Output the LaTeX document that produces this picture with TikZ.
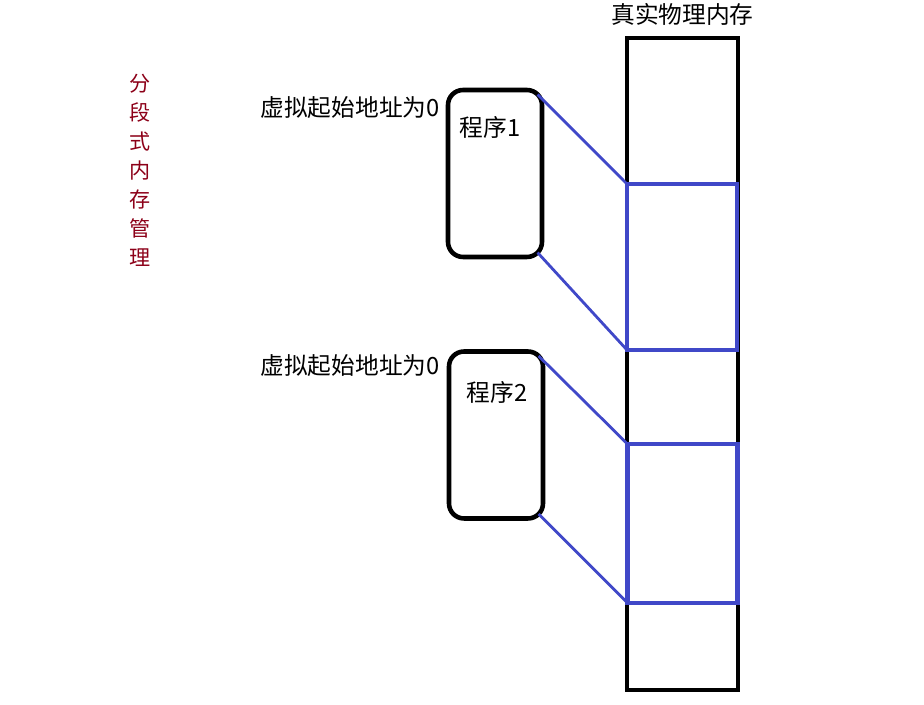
\documentclass[tikz,border=0pt]{standalone}
\usepackage{fontspec}
\setmainfont{Noto Sans CJK SC}
\usetikzlibrary{positioning,calc}
\definecolor{segblue}{RGB}{64,72,200}
\definecolor{titlered}{RGB}{140,0,24}
\tikzset{
  prog/.style={draw,line width=2.6pt,rounded corners=0.3cm,outer sep=0pt,minimum width=1.88cm,minimum height=3.34cm},
  seg/.style={draw=segblue,line width=2.5pt,outer sep=0pt,minimum width=2.2cm},
  maplink/.style={segblue,line width=1.6pt},
  txt/.style={font=\fontsize{13.5}{16}\selectfont,inner sep=0pt}
}
\begin{document}
\begin{tikzpicture}[x=0.02cm,y=-0.02cm]
  \useasboundingbox (0,0) rectangle (924,705);
  \node[txt,text=titlered,align=center,font=\fontsize{12}{16.5}\selectfont] (title) at (140,170) {分\\段\\式\\内\\存\\管\\理};
  \node[draw,line width=2.6pt,minimum width=2.22cm,minimum height=13.04cm] (mem) at (682.5,364) {};
  \node[txt,above=0.2cm of mem] (memname) {真实物理内存};
  \node[seg,minimum height=3.32cm] (seg1) at (682,267) {};
  \node[seg,minimum height=3.18cm] (seg2) at (682.5,523.5) {};
  \node[prog] (prog1) at (495,173.5) {};
  \node[prog] (prog2) at (496,435) {};
  \node[txt] (name1) at (490,127) {程序1};
  \node[txt] (name2) at (497,392) {程序2};
  \node[txt,anchor=east] (start1) at (440,108) {虚拟起始地址为0};
  \node[txt,anchor=east] (start2) at (440,366) {虚拟起始地址为0};
  \draw[maplink] ($(prog1.north east)+(-4.4,4.4)$) -- (seg1.north west);
  \draw[maplink] ($(prog1.south east)+(-4.4,-4.4)$) -- (seg1.south west);
  \draw[maplink] ($(prog2.north east)+(-4.4,4.4)$) -- (seg2.north west);
  \draw[maplink] ($(prog2.south east)+(-4.4,-4.4)$) -- (seg2.south west);
\end{tikzpicture}
\end{document}
